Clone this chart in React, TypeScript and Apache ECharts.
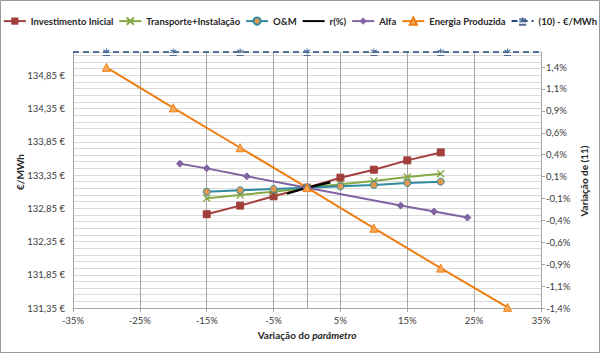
import React, { useEffect, useRef } from 'react';
import * as echarts from 'echarts';

// X axis (variation of parameter, %)
const xMin = -35;
const xMax = 35;
const xStep = 10;

// Left axis (€/MWh)
const yMin = 131.35;
const yMax = 135.2;
const yStep = 0.1;

// Right axis (variation of (11), %)
const y2Min = -1.4;
const y2Max = 1.575;
const y2Step = 2.8 / 11;

const invX = [-15, -10, -5, 0, 5, 10, 15, 20];
const invY = [132.76, 132.89, 133.03, 133.16, 133.31, 133.43, 133.57, 133.69];

const transX = [-15, -10, -5, 0, 5, 10, 15, 20];
const transY = [133.0, 133.05, 133.1, 133.16, 133.21, 133.26, 133.32, 133.37];

const omX = [-15, -10, -5, 0, 5, 10, 15, 20];
const omY = [133.1, 133.12, 133.14, 133.16, 133.18, 133.2, 133.23, 133.25];

const rX = [-3, 0, 3.5];
const rY = [133.07, 133.16, 133.24];

const alfaX = [-19, -15, -9, 0, 14, 19, 24];
const alfaY = [133.52, 133.45, 133.33, 133.16, 132.89, 132.8, 132.71];

const enX = [-30, -20, -10, 0, 10, 20, 30];
const enY = [134.97, 134.36, 133.76, 133.16, 132.55, 131.95, 131.36];

const refX = [-35, -30, -20, -10, 0, 10, 20, 30, 35];
const refY = [135.2, 135.2, 135.2, 135.2, 135.2, 135.2, 135.2, 135.2, 135.2];

const names = [
  'Investimento Inicial',
  'Transporte+Instalação',
  'O&M',
  'r(%)',
  'Alfa',
  'Energia Produzida',
  '(10) - €/MWh',
];

const zip = (xs: number[], ys: number[]) => xs.map((x, i) => [x, ys[i]]);

const FONT = 'Lato';
const TXT = '#3a3a3a';

export default function App() {
  const ref = useRef<HTMLDivElement>(null);
  useEffect(() => {
    if (!ref.current) return;
    const chart = echarts.init(ref.current, null, { renderer: 'svg' });
    const refData = refX.map((x, i) => {
      const edge = x === xMin || x === xMax;
      return edge ? { value: [x, refY[i]], symbol: 'none' } : { value: [x, refY[i]] };
    });
    const legendData = names.map((n) =>
      n === 'r(%)' ? { name: n, itemStyle: { opacity: 0 } } : { name: n }
    );
    chart.setOption({
      animation: false,
      backgroundColor: '#ffffff',
      textStyle: { fontFamily: FONT },
      legend: {
        top: 15,
        left: 'center',
        width: 596,
        padding: 0,
        itemWidth: 22,
        itemHeight: 9,
        itemGap: 5,
        textStyle: { fontFamily: FONT, fontWeight: 'bold', fontSize: 9.5, color: '#262626' },
        data: legendData,
      },
      grid: { left: 73, right: 59, top: 52, bottom: 45, containLabel: false },
      xAxis: {
        type: 'value',
        min: xMin,
        max: xMax,
        interval: xStep,
        axisLine: { show: true, onZero: false, lineStyle: { color: '#a6a6a6' } },
        axisTick: { show: true, length: 4, lineStyle: { color: '#a6a6a6' } },
        splitLine: { show: true, lineStyle: { color: '#a6a6a6', width: 1 } },
        axisLabel: {
          fontFamily: FONT,
          fontSize: 9.5,
          color: TXT,
          margin: 7,
          formatter: (v: number) => `${Math.round(v)}%`,
        },
      },
      yAxis: [
        {
          type: 'value',
          position: 'left',
          min: yMin,
          max: yMax,
          interval: yStep,
          axisLine: { show: true, onZero: false, lineStyle: { color: '#a6a6a6' } },
          axisTick: { show: false },
          splitLine: { show: true, lineStyle: { color: '#dadada', width: 1 } },
          axisLabel: {
            interval: 0,
            fontFamily: FONT,
            fontSize: 9.5,
            color: TXT,
            margin: 8,
            formatter: (v: number) => {
              const k = Math.round((v - yMin) * 100);
              if (k % 50 !== 0 || v > yMax - 0.2) return '';
              return v.toFixed(2).replace('.', ',') + ' €';
            },
          },
        },
        {
          type: 'value',
          position: 'right',
          min: y2Min,
          max: y2Max,
          interval: y2Step,
          axisLine: { show: true, onZero: false, lineStyle: { color: '#a6a6a6' } },
          axisTick: { show: true, length: 4, lineStyle: { color: '#a6a6a6' } },
          splitLine: { show: false },
          axisLabel: {
            fontFamily: FONT,
            fontSize: 9.5,
            color: TXT,
            margin: 5,
            showMaxLabel: false,
            formatter: (v: number) => {
              if (v > 1.45) return '';
              return v.toFixed(1).replace('.', ',') + '%';
            },
          },
        },
      ],
      series: [
        {
          name: names[0],
          type: 'line',
          data: zip(invX, invY),
          symbol: 'rect',
          symbolSize: 7,
          lineStyle: { color: '#a23e3b', width: 2 },
          itemStyle: { color: '#a23e3b', borderColor: '#a23e3b' },
        },
        {
          name: names[1],
          type: 'line',
          data: zip(transX, transY),
          symbol: 'path://M0,0L10,10M10,0L0,10',
          symbolSize: 7,
          lineStyle: { color: '#86a845', width: 2 },
          itemStyle: { color: 'none', borderColor: '#86a845', borderWidth: 1.3 },
        },
        {
          name: names[2],
          type: 'line',
          data: zip(omX, omY),
          symbol: 'circle',
          symbolSize: 7,
          lineStyle: { color: '#2f8aa0', width: 2 },
          itemStyle: { color: '#e2984f', borderColor: '#2f8aa0', borderWidth: 1 },
        },
        {
          name: names[3],
          type: 'line',
          data: zip(rX, rY),
          symbol: 'none',
          lineStyle: { color: '#000000', width: 2.5 },
          itemStyle: { color: '#000000' },
        },
        {
          name: names[4],
          type: 'line',
          data: zip(alfaX, alfaY),
          symbol: 'diamond',
          symbolSize: 7,
          lineStyle: { color: '#8064a2', width: 2 },
          itemStyle: { color: '#8064a2', borderColor: '#8064a2' },
        },
        {
          name: names[5],
          type: 'line',
          data: zip(enX, enY),
          symbol: 'triangle',
          symbolSize: 8,
          clip: false,
          lineStyle: { color: '#ee7f12', width: 2 },
          itemStyle: { color: '#f9a95c', borderColor: '#ee7f12', borderWidth: 1 },
        },
        {
          name: names[6],
          type: 'line',
          data: refData,
          clip: false,
          symbol: 'path://M5,0L5,7M0.5,2L9.5,6M9.5,2L0.5,6M0,10L10,10',
          symbolSize: 7,
          lineStyle: { color: '#1f497d', width: 1.5, type: [6, 4] },
          itemStyle: { color: 'none', borderColor: '#4f6d96', borderWidth: 1 },
          markLine: {
            silent: true,
            symbol: 'none',
            label: { show: false },
            lineStyle: { color: '#a6a6a6', width: 1, type: 'solid' },
            data: [{ xAxis: 0 }],
            z: 1,
          },
        },
      ],
      graphic: [
        {
          type: 'rect',
          shape: { x: 0.5, y: 0.5, width: 599, height: 352 },
          style: { fill: 'none', stroke: '#9a9a9a', lineWidth: 1 },
          silent: true,
        },
        {
          type: 'text',
          x: 20,
          y: 172,
          rotation: Math.PI / 2,
          style: {
            text: '€/MWh',
            fill: '#262626',
            font: `bold 10px ${FONT}`,
            textAlign: 'center',
            textVerticalAlign: 'middle',
          },
        },
        {
          type: 'text',
          x: 584,
          y: 181,
          rotation: Math.PI / 2,
          style: {
            text: 'Variação de (11)',
            fill: '#262626',
            font: `bold 10px ${FONT}`,
            textAlign: 'center',
            textVerticalAlign: 'middle',
          },
        },
        {
          type: 'text',
          x: 307,
          y: 335,
          style: {
            text: '{a|Variação do }{b|parâmetro}',
            textAlign: 'center',
            textVerticalAlign: 'middle',
            rich: {
              a: { fontFamily: FONT, fontWeight: 'bold', fontSize: 10, fill: '#262626' },
              b: { fontFamily: FONT, fontWeight: 'bold', fontStyle: 'italic', fontSize: 10, fill: '#262626' },
            },
          },
        },
      ],
    });
    return () => chart.dispose();
  }, []);
  return (
    <div
      ref={ref}
      style={{ position: 'fixed', left: 0, top: 0, width: 600, height: 353 }}
    />
  );
}
